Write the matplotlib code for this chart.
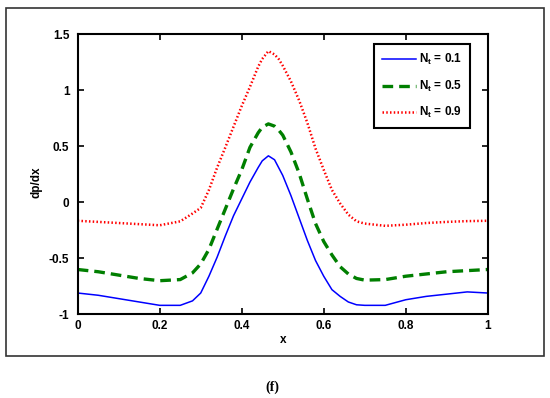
import matplotlib
matplotlib.use("Agg")
import matplotlib.pyplot as plt
from matplotlib.patches import Rectangle

x = [0.0, 0.05, 0.10, 0.15, 0.20, 0.25, 0.28, 0.30, 0.32, 0.34, 0.36, 0.38, 0.40,
     0.42, 0.44, 0.45, 0.465, 0.48, 0.49, 0.50, 0.52, 0.54, 0.56, 0.58, 0.60, 0.62, 0.64,
     0.66, 0.68, 0.70, 0.75, 0.80, 0.85, 0.90, 0.95, 1.0]

nt_01 = [-0.81, -0.83, -0.86, -0.89, -0.92, -0.92, -0.88, -0.81, -0.66, -0.49, -0.30, -0.12, 0.03,
         0.18, 0.31, 0.37, 0.415, 0.38, 0.31, 0.24, 0.06, -0.14, -0.34, -0.52, -0.66, -0.78, -0.84,
         -0.89, -0.915, -0.92, -0.92, -0.87, -0.84, -0.82, -0.80, -0.81]

nt_05 = [-0.60, -0.62, -0.65, -0.68, -0.70, -0.69, -0.63, -0.55, -0.42, -0.24, -0.06, 0.12, 0.29,
         0.49, 0.62, 0.67, 0.70, 0.68, 0.645, 0.60, 0.45, 0.26, 0.03, -0.19, -0.35, -0.47, -0.575,
         -0.64, -0.68, -0.695, -0.69, -0.66, -0.64, -0.62, -0.61, -0.60]

nt_09 = [-0.165, -0.175, -0.185, -0.195, -0.205, -0.17, -0.10, -0.05, 0.11, 0.31, 0.49, 0.675, 0.86,
         1.03, 1.21, 1.28, 1.35, 1.32, 1.28, 1.22, 1.08, 0.91, 0.71, 0.48, 0.29, 0.11, -0.01,
         -0.11, -0.17, -0.19, -0.21, -0.20, -0.185, -0.175, -0.168, -0.165]

labels = [r"$\mathbf{N_t}$ = 0.1", r"$\mathbf{N_t}$ = 0.5", r"$\mathbf{N_t}$ = 0.9"]
xticks = [0, 0.2, 0.4, 0.6, 0.8, 1]
xticklabels = ["0", "0.2", "0.4", "0.6", "0.8", "1"]
yticks = [-1, -0.5, 0, 0.5, 1, 1.5]
yticklabels = ["-1", "-0.5", "0", "0.5", "1", "1.5"]

plt.rcParams["font.family"] = ["Liberation Sans", "DejaVu Sans"]
plt.rcParams["mathtext.fontset"] = "custom"
plt.rcParams["mathtext.rm"] = "Liberation Sans"
plt.rcParams["mathtext.bf"] = "Liberation Sans:bold"
plt.rcParams["mathtext.it"] = "Liberation Sans:italic"
plt.rcParams["lines.solid_joinstyle"] = "round"
plt.rcParams["lines.dash_joinstyle"] = "round"

fig = plt.figure(figsize=(5.5, 3.98), dpi=100)

# outer frame
fig.patches.append(Rectangle((0.0118, 0.1055), 0.9772, 0.8755, transform=fig.transFigure,
                             fill=False, edgecolor="#333333", linewidth=1.2))

ax = fig.add_axes([0.1413, 0.2103, 0.7455, 0.7035])

ax.plot(x, nt_01, color="#0000ff", linestyle="-", linewidth=1.1, label=labels[0])
ax.plot(x, nt_05, color="#007f00", linestyle=(0, (3.2, 1.8)), linewidth=2.4, label=labels[1])
ax.plot(x, nt_09, color="#ff0000", linestyle=(0, (0.6, 0.9)), linewidth=1.8, label=labels[2])

ax.set_xlim(0, 1)
ax.set_ylim(-1, 1.5)
ax.set_xticks(xticks)
ax.set_xticklabels(xticklabels)
ax.set_yticks(yticks)
ax.set_yticklabels(yticklabels)

for lab in ax.get_xticklabels() + ax.get_yticklabels():
    lab.set_fontweight("bold")
    lab.set_fontsize(8.5)

ax.tick_params(direction="in", length=4, width=1.2, top=True, right=True,
               colors="black", pad=4)
ax.tick_params(axis="y", pad=6)
for s in ax.spines.values():
    s.set_linewidth(1.5)

ax.set_xlabel("x", fontsize=8.5, fontweight="bold")
ax.set_ylabel("dp/dx", fontsize=8.5, fontweight="bold")
ax.xaxis.set_label_coords(0.5, -0.072)
ax.yaxis.set_label_coords(-0.085, 0.47)

leg = ax.legend(loc="upper right", bbox_to_anchor=(0.957, 0.965), borderaxespad=0,
                fancybox=False, framealpha=1, edgecolor="black",
                prop={"weight": "bold", "size": 8.5},
                handlelength=2.9, handletextpad=0.2, labelspacing=0.95,
                borderpad=0.7)
leg.get_frame().set_linewidth(1.5)

fig.text(0.496, 0.028, "(f)", fontsize=10, fontweight="bold",
         family=["Liberation Serif", "DejaVu Serif"], ha="center", va="center")

fig.savefig("out.png", dpi=100)
